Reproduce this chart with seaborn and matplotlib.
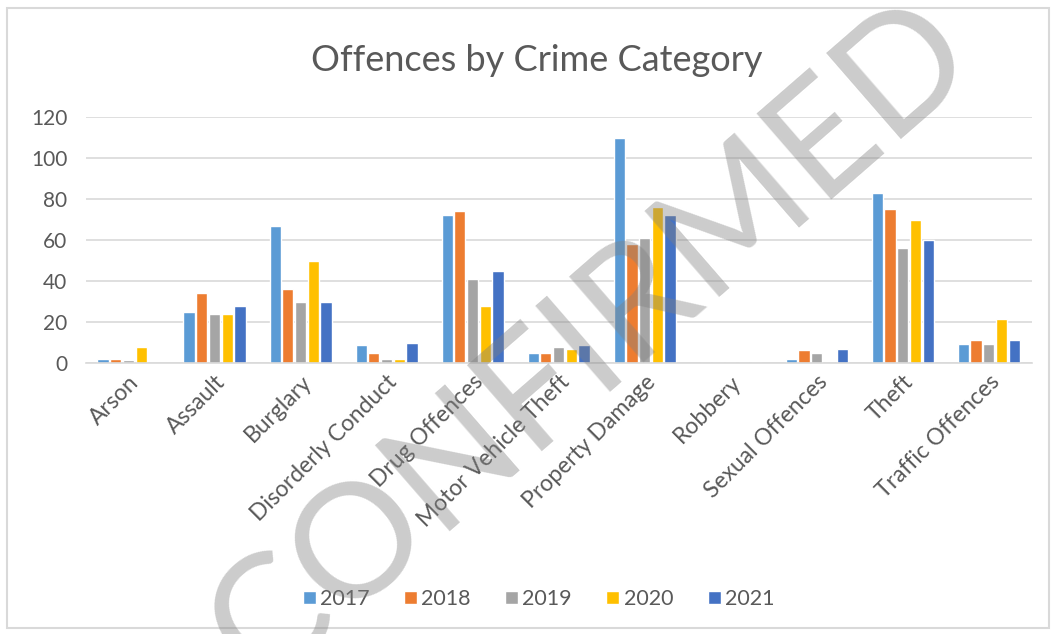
import matplotlib
matplotlib.use("Agg")
import matplotlib.pyplot as plt
from matplotlib.patches import Rectangle
import seaborn as sns
import pandas as pd

categories = ["Arson", "Assault", "Burglary", "Disorderly Conduct", "Drug Offences",
              "Motor Vehicle Theft", "Property Damage", "Robbery", "Sexual Offences",
              "Theft", "Traffic Offences"]
years = ["2017", "2018", "2019", "2020", "2021"]
v2017 = [2, 25, 67, 9, 72, 5, 110, 0, 2, 83, 9.5]
v2018 = [2, 34, 36, 5, 74, 5, 58, 0, 6.5, 75, 11]
v2019 = [1.5, 24, 30, 2, 41, 8, 61, 0, 5, 56, 9.5]
v2020 = [8, 24, 50, 2, 28, 7, 76, 0, 0, 70, 21.5]
v2021 = [0, 28, 30, 10, 45, 9, 72, 0, 7, 60, 11]
colors = ["#5B9BD5", "#ED7D31", "#A5A5A5", "#FFC000", "#4472C4"]

rows = []
for y, vals in zip(years, [v2017, v2018, v2019, v2020, v2021]):
    for c, v in zip(categories, vals):
        rows.append({"Category": c, "Year": y, "Offences": v})
df = pd.DataFrame(rows)

sns.set_theme(style="white")
plt.rcParams["font.family"] = ["Lato", "DejaVu Sans"]

fig = plt.figure(figsize=(10.56, 6.34), dpi=100)
ax = fig.add_axes([0.081, 0.4274, 0.896, 0.388])

sns.barplot(data=df, x="Category", y="Offences", hue="Year", palette=colors,
            order=categories, hue_order=years, width=0.74, gap=0.12,
            saturation=1, ax=ax, legend=True)

ax.set_ylim(0, 120)
ax.set_yticks(range(0, 121, 20))
ax.yaxis.grid(True, color="#D9D9D9", linewidth=1.2)
ax.set_axisbelow(True)
for s in ["top", "right", "left"]:
    ax.spines[s].set_visible(False)
ax.spines["bottom"].set_color("#D9D9D9")
ax.spines["bottom"].set_linewidth(1.2)
ax.set_xlabel("")
ax.set_ylabel("")
ax.tick_params(axis="y", colors="#595959", labelsize=15, length=0, pad=13)
ax.tick_params(axis="x", colors="#595959", labelsize=16.5, length=0, pad=6)
plt.setp(ax.get_xticklabels(), rotation=45, ha="right", rotation_mode="anchor")
ax.set_xlim(-0.5, len(categories) - 0.5)

fig.text(0.508, 0.905, "Offences by Crime Category", ha="center", va="center",
         fontsize=26, color="#595959")

handles, labels = ax.get_legend_handles_labels()
ax.legend_.remove()
fig.legend(handles, labels, loc="center", bbox_to_anchor=(0.51, 0.055), ncol=5,
           frameon=False, fontsize=15.5, labelcolor="#595959", handlelength=0.6,
           handleheight=0.6, handletextpad=0.2, columnspacing=1.6)

fig.patches.append(Rectangle((0.007, 0.01), 0.986, 0.978, transform=fig.transFigure,
                             fill=False, edgecolor="#D9D9D9", linewidth=1.5))

fig.text(0.56, 0.46, "CONFIRMED", ha="center", va="center", rotation=41,
         fontsize=115, color="#808080", alpha=0.4, fontweight="normal",
         family=["Lato", "DejaVu Sans"], zorder=10)

fig.savefig("out.png", dpi=100)
